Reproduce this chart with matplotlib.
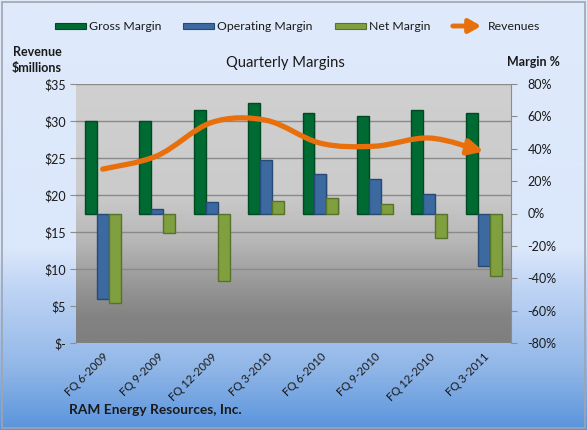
import numpy as np
import matplotlib
matplotlib.use("Agg")
import matplotlib.pyplot as plt
from matplotlib.colors import LinearSegmentedColormap
from matplotlib.patches import Rectangle, FancyArrowPatch
from matplotlib.path import Path

plt.rcParams['font.family'] = ['Lato', 'DejaVu Sans']

# ---------------- data ----------------
quarters = ["FQ 6-2009", "FQ 9-2009", "FQ 12-2009", "FQ 3-2010",
            "FQ 6-2010", "FQ 9-2010", "FQ 12-2010", "FQ 3-2011"]
gross_margin = [57, 57, 64, 68, 62, 60.5, 64, 62]          # %
operating_margin = [-53, 3, 7, 33, 24.5, 21.5, 12, -32.5]  # %
net_margin = [-55.5, -12, -42, 7.5, 9.5, 6, -15, -38.5]    # %
revenues = [23.5, 25.3, 29.8, 30.1, 27.0, 26.6, 27.7, 25.9]  # $ millions

rev_ticks = [0, 5, 10, 15, 20, 25, 30, 35]
rev_ticklabels = ["$-", "$5", "$10", "$15", "$20", "$25", "$30", "$35"]
margin_ticks = [-80, -60, -40, -20, 0, 20, 40, 60, 80]
margin_ticklabels = [f"{t}%" for t in margin_ticks]

# ---------------- figure ----------------
W, H = 587, 430
fig = plt.figure(figsize=(W / 100, H / 100), dpi=100)

# figure background gradient
bg = fig.add_axes([0, 0, 1, 1], zorder=-10)
bg.set_axis_off()
cm_bg = LinearSegmentedColormap.from_list(
    "bg", [(0.0, "#dfeafb"), (0.58, "#dbe7fb"), (0.66, "#c2d6f5"),
           (0.85, "#93b8e8"), (1.0, "#5a94dc")])
grad = np.linspace(0, 1, 256).reshape(-1, 1)
bg.imshow(grad, cmap=cm_bg, aspect="auto", extent=[0, 1, 0, 1],
          origin="upper", transform=bg.transAxes)
bg.set_xlim(0, 1); bg.set_ylim(0, 1)
bg.add_patch(Rectangle((2 / W, 2 / H), (W - 4) / W, (H - 4) / H,
                       transform=bg.transAxes, fill=False,
                       edgecolor="#a0a4ae", lw=1.2))

left, right, top, bottom = 75.5, 511, 84, 343
pos = [left / W, 1 - bottom / H, (right - left) / W, (bottom - top) / H]

TXT = "#1a1a1a"

# primary axis: revenue scale (left) with gridlines
ax = fig.add_axes(pos)
cm_plot = LinearSegmentedColormap.from_list(
    "pl", [(0.0, "#d0d0d0"), (0.42, "#cbcbcb"), (0.6, "#b8b8b8"),
           (0.8, "#939393"), (0.9, "#838383"), (1.0, "#7f7f7f")])
ax.imshow(grad, cmap=cm_plot, aspect="auto", extent=[0, 1, 0, 1],
          origin="upper", transform=ax.transAxes, zorder=0)
ax.set_ylim(0, 35)
ax.set_xlim(-0.5, len(quarters) - 0.5)
ax.set_yticks(rev_ticks)
ax.set_yticklabels(rev_ticklabels)
ax.yaxis.grid(True, color="#8a8a8a", lw=1.0)
ax.set_axisbelow(True)
ax.set_xticks(range(len(quarters)))
ax.set_xticklabels(quarters, rotation=45, ha="right", va="top",
                   rotation_mode="anchor")
ax.tick_params(axis="x", length=0, pad=6, labelsize=8.2, colors=TXT)
ax.tick_params(axis="y", length=4, width=0.8, color="#8c8c8c",
               labelsize=9.0, labelcolor=TXT, pad=3)
for s in ax.spines.values():
    s.set_visible(False)

# margin axis (right)
axm = ax.twinx()
axm.set_ylim(-80, 80)
axm.set_yticks(margin_ticks)
axm.set_yticklabels(margin_ticklabels)
axm.tick_params(axis="y", length=4, width=0.8, color="#8c8c8c",
                labelsize=9.0, labelcolor=TXT, pad=8)
for s in axm.spines.values():
    s.set_visible(False)
axm.spines["right"].set_visible(True)
axm.spines["right"].set_color("#8c8c8c")
axm.spines["right"].set_linewidth(0.8)

x = np.arange(len(quarters))
bw = 0.22
series = [(gross_margin, "#006a33", "#004a22", -bw),
          (operating_margin, "#3c69a0", "#274a75", 0.0),
          (net_margin, "#80a040", "#57722a", bw)]
for vals, fc, ec, off in series:
    axm.bar(x + off + 0.02, vals, bw, color="#000000", alpha=0.12,
            zorder=1, linewidth=0)
    axm.bar(x + off, vals, bw, color=fc, edgecolor=ec, linewidth=1.0,
            zorder=2)

# revenue axis (line on top)
axr = ax.twinx()
axr.set_ylim(0, 35)
axr.set_yticks([])
for s in axr.spines.values():
    s.set_visible(False)

# smooth (Excel-like) revenue curve built as cubic Bezier through the points
pts = np.column_stack([x, revenues]).astype(float)
verts = [tuple(pts[0])]
codes = [Path.MOVETO]
n = len(pts)
for i in range(n - 1):
    p_prev = pts[max(i - 1, 0)]
    p0 = pts[i]
    p1 = pts[i + 1]
    p_next = pts[min(i + 2, n - 1)]
    c1 = p0 + (p1 - p_prev) / 6.0
    c2 = p1 - (p_next - p0) / 6.0
    verts += [tuple(c1), tuple(c2), tuple(p1)]
    codes += [Path.CURVE4] * 3
rev_path = Path(verts, codes)
arrow = FancyArrowPatch(path=rev_path, transform=axr.transData,
                        arrowstyle="-|>,head_length=9,head_width=4.5",
                        mutation_scale=1, color="#e8700c", lw=3.8,
                        capstyle="round", joinstyle="round", zorder=5)
axr.add_patch(arrow)

# ---------------- texts ----------------
fig.text(285 / W, 1 - 63 / H, "Quarterly Margins", ha="center", va="center",
         fontsize=10.6, color=TXT)
fig.text(37 / W, 1 - 52 / H, "Revenue", ha="center", va="center",
         fontsize=9.0, fontweight="bold", color=TXT)
fig.text(37 / W, 1 - 68 / H, "$millions", ha="center", va="center",
         fontsize=9.0, fontweight="bold", color=TXT)
fig.text(533 / W, 1 - 62 / H, "Margin %", ha="center", va="center",
         fontsize=9.0, fontweight="bold", color=TXT)
fig.text(69 / W, 1 - 410 / H, "RAM Energy Resources, Inc.", ha="left",
         va="center", fontsize=9.9, fontweight="bold", color=TXT)

# ---------------- legend ----------------
leg_y = 26
legend_items = [("Gross Margin", "#006a33", "#004a22", 55),
                ("Operating Margin", "#3c69a0", "#274a75", 183),
                ("Net Margin", "#80a040", "#57722a", 335)]
for label, fc, ec, x0 in legend_items:
    bg.add_patch(Rectangle((x0 / W, 1 - (leg_y + 3) / H), 31 / W, 6 / H,
                           transform=bg.transAxes, facecolor=fc,
                           edgecolor=ec, lw=0.8))
    fig.text((x0 + 34) / W, 1 - leg_y / H, label, ha="left", va="center",
             fontsize=8.8, color=TXT)
bg.add_patch(FancyArrowPatch((450 / W, 1 - leg_y / H), (484 / W, 1 - leg_y / H),
                             transform=bg.transAxes,
                             arrowstyle="-|>,head_length=7,head_width=4",
                             mutation_scale=1, color="#e8700c", lw=3.5))
fig.text(488 / W, 1 - leg_y / H, "Revenues", ha="left", va="center",
         fontsize=8.8, color=TXT)

fig.savefig("out.png", dpi=100)
